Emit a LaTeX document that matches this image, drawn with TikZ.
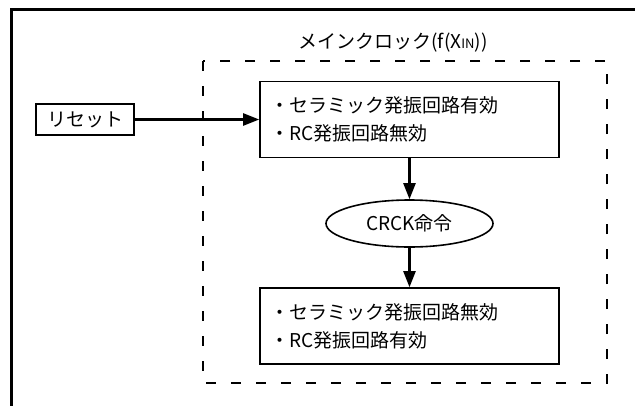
\documentclass[tikz,border=0pt]{standalone}
\usepackage{fontspec}
\setmainfont{Noto Sans CJK JP}
\usetikzlibrary{shapes.geometric,arrows.meta}
\tikzset{
  blk/.style={draw,line width=1.6pt,minimum width=299pt,minimum height=76pt,
    inner xsep=10pt,text width=279pt,align=left,font=\fontsize{19}{28}\selectfont},
  flow/.style={line width=2.4pt,-{Triangle[length=16pt,width=12pt]}}
}
\begin{document}
\begin{tikzpicture}[x=1pt,y=-1pt]
\useasboundingbox (0,0) rectangle (635,405);
\draw[line width=3pt] (11,420) -- (11,9) -- (650,9);

\draw[line width=2pt,dash pattern=on 10pt off 15pt] (203,61) rectangle (607,383);
\node[font=\fontsize{19}{19}\selectfont] (title) at (393,43)
  {メインクロック(f(X{\fontsize{13}{13}\selectfont IN}))};

\node[draw,line width=1.6pt,minimum width=98pt,minimum height=31pt,inner sep=0pt,
  font=\fontsize{19}{19}\selectfont] (reset) at (85,119.5) {リセット};

\node[blk] (on) at (409.5,119.5) {・セラミック発振回路有効\\・RC発振回路無効};

\node[ellipse,draw,line width=1.6pt,minimum width=167pt,minimum height=47pt,inner sep=0pt,
  font=\fontsize{19}{19}\selectfont] (crck) at (409.5,223.5) {CRCK命令};

\node[blk] (off) at (409.5,326) {・セラミック発振回路無効\\・RC発振回路有効};

\draw[flow] (reset) -- (on);
\draw[flow] (on) -- (crck);
\draw[flow] (crck) -- (off);
\end{tikzpicture}
\end{document}
